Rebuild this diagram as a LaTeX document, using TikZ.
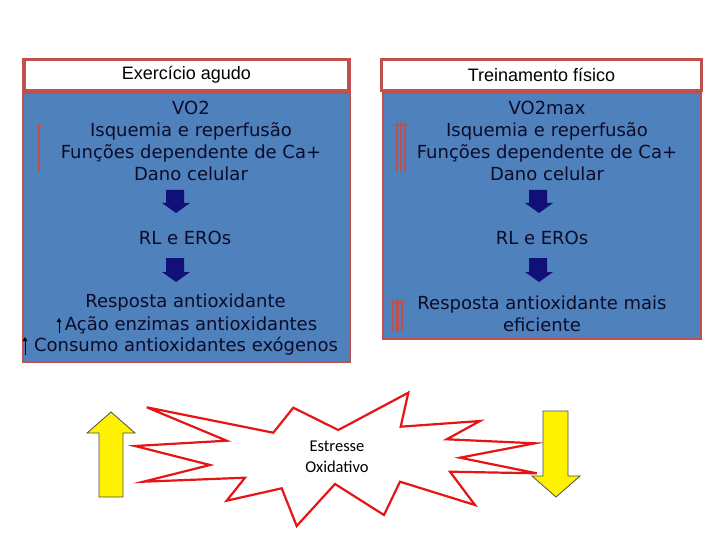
\documentclass[tikz,border=0pt]{standalone}
\usepackage{fontspec}
\usetikzlibrary{arrows.meta}
\newfontfamily\vfont{DejaVu Sans}
\newfontfamily\afont{Liberation Sans}
\newfontfamily\cfont{Carlito}
\definecolor{boxred}{RGB}{192,80,77}
\definecolor{boxblue}{RGB}{79,129,189}
\definecolor{navy}{RGB}{16,16,120}
\definecolor{txt}{RGB}{12,12,40}
\definecolor{burstred}{RGB}{230,20,20}
\begin{document}
\begin{tikzpicture}[x=1pt,y=-1pt,
  hdr/.style={draw=boxred, line width=3.5pt, fill=white, inner sep=0pt,
    font=\afont\fontsize{18}{21}\selectfont, text=black},
  bluebox/.style={draw=boxred, line width=2pt, fill=boxblue, inner sep=0pt},
  btxt/.style={align=center, inner sep=0pt, text=txt,
    font=\vfont\fontsize{18}{21.8}\selectfont},
  navyarrow/.style={fill=navy},
  thinup/.style={draw=boxred, line width=2.6pt, -{Triangle[length=4pt,width=5pt]}},
  blackup/.style={draw=black, line width=1pt, -{Triangle[length=4pt,width=4.5pt]}},
  burst/.style={draw=burstred, line width=2.2pt, fill=white, line join=miter},
  yarrow/.style={fill=yellow, draw=black!70, line width=0.8pt}]
\useasboundingbox (0,0) rectangle (720,540);

% left column
\node[hdr, minimum width=325, minimum height=31] (h1) at (186.5,75) {Exercício agudo};
\node[bluebox, minimum width=327, minimum height=268] (b1) at (186.5,227.5) {};
\node[btxt] (t1) at (191,141) {VO2\\Isquemia e reperfusão\\Funções dependente de Ca+\\Dano celular};
\node[btxt] (r1) at (185,238) {RL e EROs};
\node[btxt] (a1) at (185.5,303) {Resposta antioxidante};
\node[btxt] (a1b) at (191,325) {Ação enzimas antioxidantes};
\node[btxt] (a1c) at (186,346.5) {Consumo antioxidantes exógenos};
\coordinate (u1s) at (39,172); \coordinate (u1e) at (39,123);
\draw[thinup] (u1s) -- (u1e);
\coordinate (k1s) at (59,333); \coordinate (k1e) at (59,318);
\draw[blackup] (k1s) -- (k1e);
\coordinate (k2s) at (25,355); \coordinate (k2e) at (25,337);
\draw[blackup] (k2s) -- (k2e);
\fill[navyarrow] (166,190) -- (184,190) -- (184,203) -- (190,203) -- (176,213) -- (162,203) -- (166,203) -- cycle;
\fill[navyarrow] (166,258) -- (184,258) -- (184,272) -- (190,272) -- (176,282) -- (162,272) -- (166,272) -- cycle;

% right column
\node[hdr, minimum width=320, minimum height=31] (h2) at (541.5,75) {Treinamento físico};
\node[bluebox, minimum width=318, minimum height=246] (b2) at (542,216) {};
\node[btxt] (t2) at (547,141) {VO2max\\Isquemia e reperfusão\\Funções dependente de Ca+\\Dano celular};
\node[btxt] (r2) at (542,238) {RL e EROs};
\node[btxt] (a2) at (542,314) {Resposta antioxidante mais\\eficiente};
\foreach \xx in {397,401,405}{\draw[thinup, line width=2.2pt] (\xx,172) -- (\xx,122);}
\foreach \xx in {393,397.5,402}{\draw[thinup, line width=2.2pt] (\xx,331) -- (\xx,299);}
\fill[navyarrow] (529,190) -- (547,190) -- (547,203) -- (553,203) -- (539,213) -- (525,203) -- (529,203) -- cycle;
\fill[navyarrow] (529,258) -- (547,258) -- (547,272) -- (553,272) -- (539,282) -- (525,272) -- (529,272) -- cycle;

% bottom
\draw[burst] (146.7,407.3) -- (273.3,432.7) -- (293.3,407.7) -- (338.3,430) -- (408.3,392.7)
  -- (400.7,426.7) -- (480,421) -- (446.7,439.3) -- (535,443.3) -- (460,457.7)
  -- (536.7,473.3) -- (450,471.7) -- (475,505) -- (400,481.7) -- (384,515)
  -- (335,484) -- (296.7,526) -- (281.7,488.3) -- (226.7,500.7) -- (245,477.7)
  -- (143.3,481.7) -- (210,465) -- (135,446) -- (226.7,440.7) -- cycle;
\node[align=center, inner sep=0pt, font=\cfont\fontsize{16.5}{21}\selectfont] (es) at (337,457) {Estresse\\Oxidativo};
\draw[yarrow] (111,412) -- (135,433) -- (123,433) -- (123,497) -- (99,497) -- (99,433) -- (87,433) -- cycle;
\draw[yarrow] (543,411) -- (568,411) -- (568,476) -- (580,476) -- (556,497) -- (532,476) -- (543,476) -- cycle;
\end{tikzpicture}
\end{document}
